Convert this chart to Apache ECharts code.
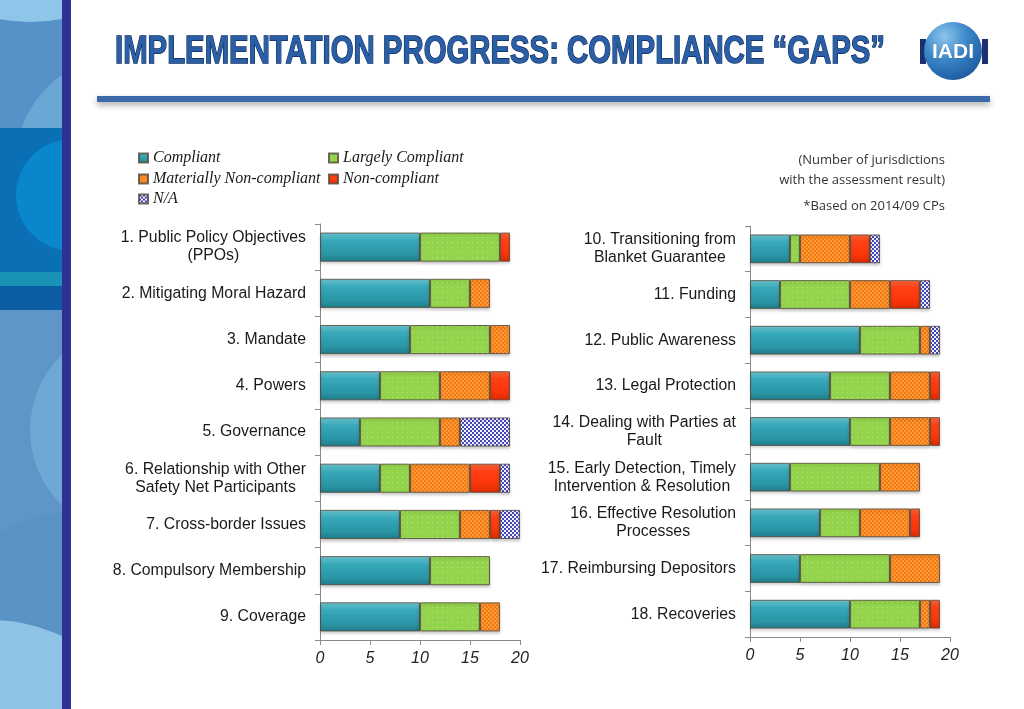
<!DOCTYPE html>
<html>
<head>
<meta charset="utf-8">
<script src="https://cdn.jsdelivr.net/npm/echarts@6/dist/echarts.min.js"></script>
<style>
html,body{margin:0;padding:0;background:#fff;}
#chart{width:1024px;height:709px;}
</style>
</head>
<body>
<div id="chart"></div>
<script>
// ---- Data ----
const titleText = 'IMPLEMENTATION PROGRESS: COMPLIANCE \u201cGAPS\u201d';
const seriesNames = ['Compliant', 'Largely Compliant', 'Materially Non-compliant', 'Non-compliant', 'N/A'];

const leftCategories = [
  '1. Public Policy Objectives\n(PPOs)',
  '2. Mitigating Moral Hazard',
  '3. Mandate',
  '4. Powers',
  '5. Governance',
  '6. Relationship with Other\nSafety Net Participants',
  '7. Cross-border Issues',
  '8. Compulsory Membership',
  '9. Coverage'
];
const rightCategories = [
  '10. Transitioning from\nBlanket Guarantee',
  '11. Funding',
  '12. Public Awareness',
  '13. Legal Protection',
  '14. Dealing with Parties at\nFault',
  '15. Early Detection, Timely\nIntervention & Resolution',
  '16. Effective Resolution\nProcesses',
  '17. Reimbursing Depositors',
  '18. Recoveries'
];

const compliantL   = [10, 11, 9, 6, 4, 6, 8, 11, 10];
const largelyL     = [8, 4, 8, 6, 8, 3, 6, 6, 6];
const materiallyL  = [0, 2, 2, 5, 2, 6, 3, 0, 2];
const nonL         = [1, 0, 0, 2, 0, 3, 1, 0, 0];
const naL          = [0, 0, 0, 0, 5, 1, 2, 0, 0];

const compliantR   = [4, 3, 11, 8, 10, 4, 7, 5, 10];
const largelyR     = [1, 7, 6, 6, 4, 9, 4, 9, 7];
const materiallyR  = [5, 4, 1, 4, 4, 4, 5, 5, 1];
const nonR         = [2, 3, 0, 1, 1, 0, 1, 0, 1];
const naR          = [1, 1, 1, 0, 0, 0, 0, 0, 0];

const xTicks = { min: 0, max: 20, interval: 5 };

// ---- Styles ----
function vgrad(stops) {
  return new echarts.graphic.LinearGradient(0, 0, 0, 1,
    stops.map((c, i) => ({ offset: i / (stops.length - 1), color: c })));
}
function checkerPattern(c1, c2, cell) {
  const cv = document.createElement('canvas');
  cv.width = cell * 2; cv.height = cell * 2;
  const g = cv.getContext('2d');
  g.fillStyle = c1; g.fillRect(0, 0, cell * 2, cell * 2);
  g.fillStyle = c2; g.fillRect(0, 0, cell, cell); g.fillRect(cell, cell, cell, cell);
  return { image: cv, repeat: 'repeat' };
}
function dotPattern(base, dot) {
  const cv = document.createElement('canvas');
  cv.width = 5; cv.height = 5;
  const g = cv.getContext('2d');
  g.fillStyle = base; g.fillRect(0, 0, 5, 5);
  g.fillStyle = dot; g.fillRect(2, 2, 1, 1);
  return { image: cv, repeat: 'repeat' };
}

const seriesStyles = [
  { color: vgrad(['#72cad6', '#3aabbb', '#2f9fb0', '#2a95a5', '#1f7b88']) },
  { color: dotPattern('#94d44c', '#b6e882') },
  { color: checkerPattern('#ff9a3a', '#f27a12', 2) },
  { color: vgrad(['#ff6a3a', '#ff4016', '#ff3a0e', '#f73408', '#d82a00']) },
  { color: checkerPattern('#f2f2ff', '#4646bc', 2) }
];

const leftData = [compliantL, largelyL, materiallyL, nonL, naL];
const rightData = [compliantR, largelyR, materiallyR, nonR, naR];

function buildSeries(dataSets, axisIndex, stack) {
  return dataSets.map((arr, i) => ({
    name: seriesNames[i],
    type: 'bar',
    stack: stack,
    xAxisIndex: axisIndex,
    yAxisIndex: axisIndex,
    barCategoryGap: '37%',
    data: arr.map(v => (v === 0 ? null : v)),
    itemStyle: Object.assign({
      borderColor: 'rgba(80,70,55,0.8)',
      borderWidth: 1,
      shadowColor: 'rgba(0,0,0,0.22)',
      shadowBlur: 3,
      shadowOffsetY: 2
    }, seriesStyles[i]),
    emphasis: { disabled: true }
  }));
}

const labelFont = '"Liberation Sans", Arial, sans-serif';
const labelSize = 15.8;
function catAxis(gridIndex, cats) {
  return {
    type: 'category', gridIndex: gridIndex, data: cats, inverse: true,
    axisLine: { show: true, lineStyle: { color: '#8a8a8a', width: 1 } },
    axisTick: { show: true, length: 5, lineStyle: { color: '#8a8a8a' } },
    axisLabel: {
      margin: 14, fontSize: labelSize, fontFamily: labelFont, color: '#1a1a1a', lineHeight: 18,
      formatter: (v) => v.split('\n').map(s => '{c|' + s + '}').join('\n'),
      rich: { c: { align: 'center', fontSize: labelSize, lineHeight: 18, fontFamily: labelFont, color: '#1a1a1a' } }
    }
  };
}
function valAxis(gridIndex) {
  return {
    type: 'value', gridIndex: gridIndex, min: xTicks.min, max: xTicks.max, interval: xTicks.interval,
    splitLine: { show: false },
    axisLine: { show: true, lineStyle: { color: '#8a8a8a', width: 1 } },
    axisTick: { show: true, length: 5, lineStyle: { color: '#8a8a8a' } },
    axisLabel: { margin: 11, fontSize: 16, fontStyle: 'italic', fontFamily: labelFont, color: '#222' }
  };
}

// measure title for condensed look
const mctx = document.createElement('canvas').getContext('2d');
const titleFont = 'bold 38px "Liberation Sans", Arial, sans-serif';
mctx.font = titleFont;
const titleScale = 770 / mctx.measureText(titleText).width;

const legendText = { fontFamily: '"Liberation Serif", "Times New Roman", serif', fontStyle: 'italic', fontSize: 16, color: '#1a1a1a' };
function legendAt(name, left, top) {
  return { data: [name], left: left, top: top, padding: 0, itemWidth: 9, itemHeight: 9, icon: 'rect', textStyle: legendText, selectedMode: true };
}

const band = [
  { type: 'rect', z: -10, shape: { x: 0, y: 0, width: 62, height: 709 }, style: { fill: '#5791c7' } },
  { type: 'circle', z: -10, shape: { cx: 30, cy: -140, r: 162 }, style: { fill: '#8ec5e8' } },
  { type: 'circle', z: -10, shape: { cx: 125, cy: 165, r: 110 }, style: { fill: '#6ba7d5' } },
  { type: 'rect', z: -10, shape: { x: 0, y: 128, width: 62, height: 160 }, style: { fill: '#0b6fb5' } },
  { type: 'circle', z: -10, shape: { cx: 72, cy: 195, r: 56 }, style: { fill: '#0a86cd' } },
  { type: 'rect', z: -10, shape: { x: 0, y: 272, width: 62, height: 16 }, style: { fill: '#1a92b5' } },
  { type: 'rect', z: -10, shape: { x: 0, y: 286, width: 62, height: 24 }, style: { fill: '#0b5ca2' } },
  { type: 'rect', z: -10, shape: { x: 0, y: 310, width: 62, height: 399 }, style: { fill: '#5f95c7' } },
  { type: 'circle', z: -10, shape: { cx: 135, cy: 430, r: 105 }, style: { fill: '#6fa8d4' } },
  { type: 'circle', z: -10, shape: { cx: 90, cy: 700, r: 190 }, style: { fill: '#5a92c6' } },
  { type: 'circle', z: -10, shape: { cx: -10, cy: 790, r: 170 }, style: { fill: '#8fc3e6' } },
  { type: 'rect', z: -5, shape: { x: 71, y: 0, width: 953, height: 709 }, style: { fill: '#ffffff' } },
  { type: 'rect', z: -5, shape: { x: 62, y: 0, width: 9, height: 709 }, style: { fill: '#2e3092' } }
];

const header = [
  { type: 'rect', shape: { x: 97, y: 96, width: 893, height: 6 },
    style: { fill: '#3c69a8', shadowColor: 'rgba(0,0,0,0.35)', shadowBlur: 6, shadowOffsetY: 3 } },
  { type: 'text', x: 115, y: 53, scaleX: titleScale,
    style: { text: titleText, font: titleFont, fill: '#2a5fa6', stroke: '#0b2a60', lineWidth: 1.4,
      verticalAlign: 'middle', align: 'left',
      shadowColor: 'rgba(0,0,0,0.25)', shadowBlur: 2, shadowOffsetY: 1 } },
  // logo
  { type: 'rect', shape: { x: 920, y: 39, width: 6, height: 25 }, style: { fill: '#1c2f6e' } },
  { type: 'rect', shape: { x: 982, y: 39, width: 6, height: 25 }, style: { fill: '#1c2f6e' } },
  { type: 'circle', shape: { cx: 953, cy: 51, r: 29 },
    style: { fill: new echarts.graphic.RadialGradient(0.35, 0.25, 0.9, [
      { offset: 0, color: '#8cc6ec' }, { offset: 0.45, color: '#3a86c8' }, { offset: 1, color: '#154f94' }]) } },
  { type: 'text', x: 953, y: 52,
    style: { text: 'IADI', font: 'bold 21px "Liberation Sans", Arial, sans-serif', fill: '#ffffff',
      align: 'center', verticalAlign: 'middle', stroke: 'rgba(20,60,120,0.5)', lineWidth: 0.5 } },
  // note
  { type: 'text', x: 945, y: 160,
    style: { text: '(Number of jurisdictions', font: '13px "Open Sans", "Noto Sans", sans-serif', fill: '#333', align: 'right', verticalAlign: 'middle' } },
  { type: 'text', x: 945, y: 180,
    style: { text: 'with the assessment result)', font: '13px "Open Sans", "Noto Sans", sans-serif', fill: '#333', align: 'right', verticalAlign: 'middle' } },
  { type: 'text', x: 945, y: 206,
    style: { text: '*Based on 2014/09 CPs', font: '13px "Open Sans", "Noto Sans", sans-serif', fill: '#333', align: 'right', verticalAlign: 'middle' } }
];

const chart = echarts.init(document.getElementById('chart'), null, { renderer: 'canvas' });
chart.setOption({
  backgroundColor: '#ffffff',
  animation: false,
  graphic: { elements: band.concat(header) },
  legend: [
    legendAt('Compliant', 138, 150),
    legendAt('Largely Compliant', 328, 150),
    legendAt('Materially Non-compliant', 138, 171),
    legendAt('Non-compliant', 328, 171),
    legendAt('N/A', 138, 191)
  ],
  grid: [
    { left: 320, top: 224, width: 200, height: 416, outerBoundsMode: 'none' },
    { left: 750, top: 226, width: 200, height: 411, outerBoundsMode: 'none' }
  ],
  xAxis: [valAxis(0), valAxis(1)],
  yAxis: [catAxis(0, leftCategories), catAxis(1, rightCategories)],
  series: buildSeries(leftData, 0, 'left').concat(buildSeries(rightData, 1, 'right'))
});
</script>
</body>
</html>
